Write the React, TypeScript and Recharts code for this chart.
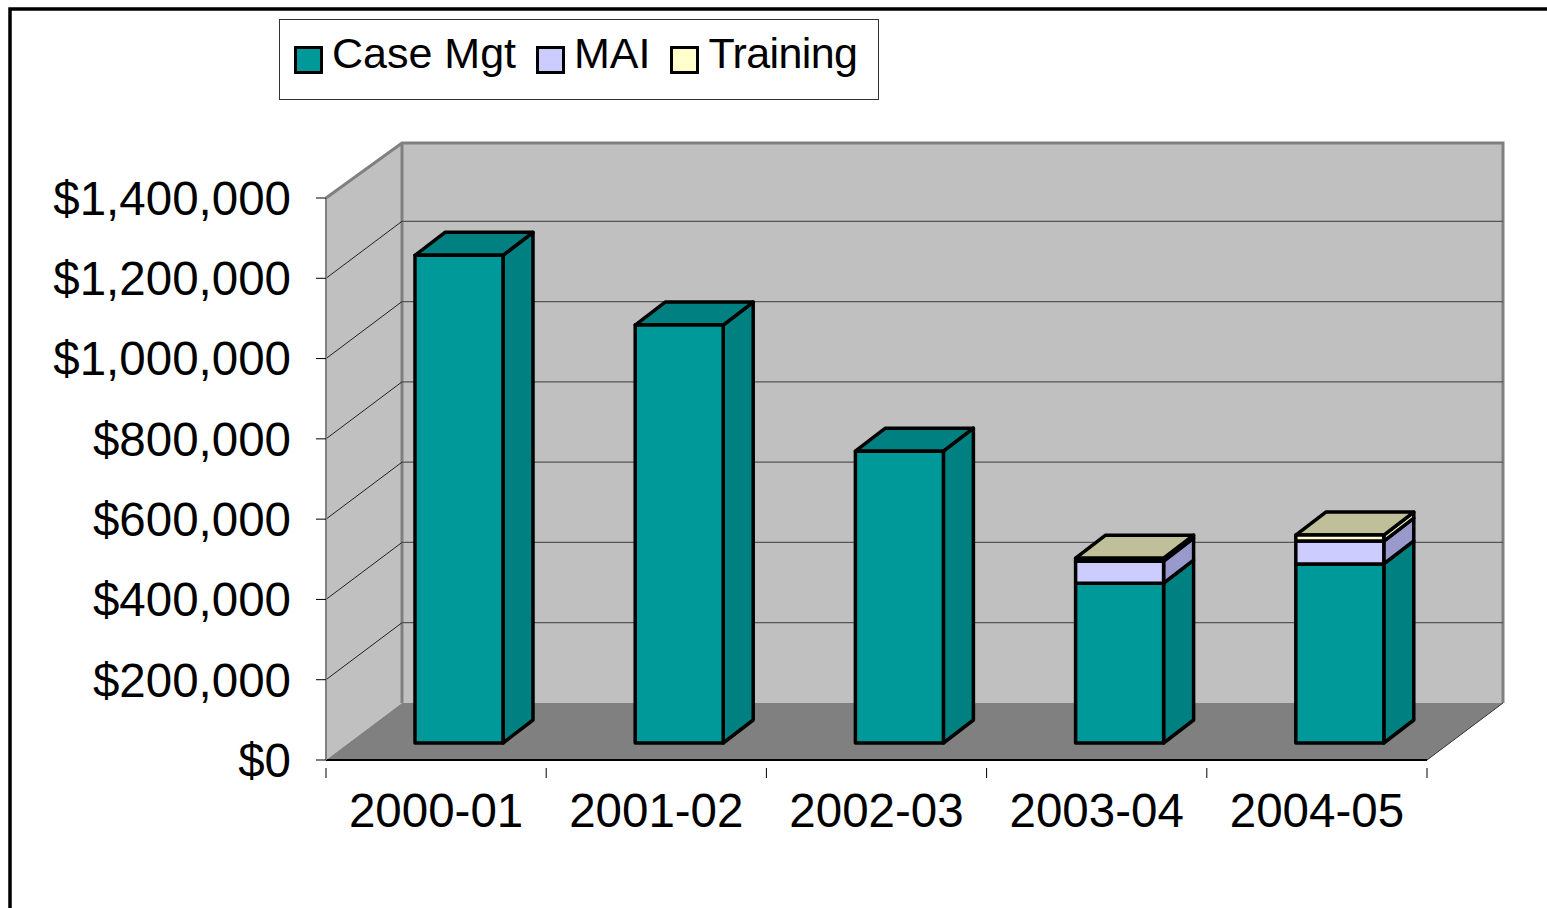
import { BarChart, Bar, XAxis, YAxis, CartesianGrid, Legend } from 'recharts';

const years = ['2000-01', '2001-02', '2002-03', '2003-04', '2004-05'];
const caseMgt = [1215000, 1041000, 727000, 398000, 446000];
const mai = [0, 0, 0, 55000, 57000];
const training = [0, 0, 0, 7500, 15000];
const yTicks = [0, 200000, 400000, 600000, 800000, 1000000, 1200000, 1400000];

const data = years.map((year, i) => ({
  year,
  caseMgt: caseMgt[i],
  mai: mai[i],
  training: training[i],
}));

const W = 1547;
const H = 908;
const left = 326;
const right = 1427;
const top = 198;
const bottom = 760;
const font = '"Liberation Sans", Arial, sans-serif';

// depth of the box the chart sits in, and of each bar
const wallDx = 76;
const wallDy = -57;
const barDx = 30;
const barDy = -23;
const barShiftX = 23;
const barShiftY = -17;
const bandWidth = (right - left) / years.length;

const colors = {
  caseMgt: { front: '#009999', side: '#008080', top: '#008080' },
  mai: { front: '#CCCCFF', side: '#9999CC', top: '#9999CC' },
  training: { front: '#FFFFCC', side: '#F2F2C0', top: '#BFBF99' },
};

// sits in its own svg under the chart, the grid lines have to land on top of it
function Walls() {
  const bx = left + wallDx;
  const rx = right + wallDx;
  const by = bottom + wallDy;
  const ty = top + wallDy + 2;
  return (
    <svg width={W} height={H} style={{ position: 'absolute', left: 0, top: 0 }}>
      <polygon points={`${left},${bottom} ${left},${top} ${bx},${ty} ${bx},${by}`} fill="#C0C0C0" />
      <rect x={bx} y={ty} width={rx - bx} height={by - ty} fill="#C0C0C0" />
      <polygon points={`${left},${bottom} ${bx},${by} ${rx},${by} ${right},${bottom}`} fill="#808080" />
      <polyline points={`${left},${top} ${bx},${ty} ${rx},${ty} ${rx},${by}`} fill="none" stroke="#808080" strokeWidth={3} />
      <line x1={bx} y1={ty} x2={bx} y2={by} stroke="#808080" strokeWidth={3} />
      <line x1={right} y1={bottom} x2={rx} y2={by} stroke="#333" strokeWidth={1} />
      <polyline points={`10,${H} 10,9 ${W},9`} fill="none" stroke="#000" strokeWidth={3.5} />
    </svg>
  );
}

function GridLine(props: any) {
  const { x1, x2, y1 } = props;
  if (Math.abs(y1 - bottom) < 1 || Math.abs(y1 - top) < 1) return null;
  const by = y1 + wallDy;
  return (
    <g>
      <line x1={x1} y1={y1} x2={x1 + wallDx} y2={by} stroke="#222" strokeWidth={1} />
      <line x1={x1 + wallDx} y1={by} x2={x2 + wallDx} y2={by} stroke="#555" strokeWidth={1.2} />
    </g>
  );
}

function Box(props: any) {
  const { x, y, width, height, palette, showTop } = props;
  if (!height || height <= 0) return null;
  const fx = x + barShiftX;
  const fy = y + barShiftY;
  const r = fx + width;
  const b = fy + height;
  return (
    <g stroke="#000" strokeWidth={3.5} strokeLinejoin="round">
      <polygon points={`${r},${fy} ${r + barDx},${fy + barDy} ${r + barDx},${b + barDy} ${r},${b}`} fill={palette.side} />
      {showTop && (
        <polygon points={`${fx},${fy} ${fx + barDx},${fy + barDy} ${r + barDx},${fy + barDy} ${r},${fy}`} fill={palette.top} />
      )}
      <rect x={fx} y={fy} width={width} height={height} fill={palette.front} />
    </g>
  );
}

function YearTick(props: any) {
  const { x, y, payload, index } = props;
  const last = index === years.length - 1;
  return (
    <g>
      <line x1={x - bandWidth / 2} y1={y} x2={x - bandWidth / 2} y2={y + 10} stroke="#000" />
      {last && <line x1={x + bandWidth / 2} y1={y} x2={x + bandWidth / 2} y2={y + 10} stroke="#000" />}
      <text x={x} y={y + 67} dy={-8} textAnchor="middle" fontSize={47.5} fontFamily={font} fill="#000">
        {payload.value}
      </text>
    </g>
  );
}

function LegendBox({ payload }: any) {
  return (
    <div
      style={{
        boxSizing: 'border-box',
        width: 600,
        height: 81,
        border: '1px solid #333',
        background: '#fff',
        display: 'flex',
        alignItems: 'flex-start',
        paddingLeft: 14,
        paddingTop: 8,
        fontFamily: font,
        fontSize: 43,
        lineHeight: '50px',
        color: '#000',
        whiteSpace: 'nowrap',
      }}
    >
      {(payload || []).map((entry: any) => (
        <div key={entry.value} style={{ display: 'flex', alignItems: 'flex-start', marginRight: 20, flex: 'none' }}>
          <span
            style={{
              boxSizing: 'border-box',
              width: 29,
              height: 28,
              marginTop: 18,
              marginRight: 9,
              background: entry.color,
              border: '3px solid #000',
              flex: 'none',
            }}
          />
          <span style={{ letterSpacing: entry.value === 'Training' ? -0.6 : 0 }}>{entry.value}</span>
        </div>
      ))}
    </div>
  );
}

export default function App() {
  return (
    <div style={{ position: 'absolute', left: 0, top: 0, width: W, height: H, overflow: 'hidden', background: '#fff' }}>
      <Walls />
      <BarChart
        width={W}
        height={H}
        data={data}
        margin={{ top, right: W - right, bottom: 0, left: 0 }}
        barSize={88}
      >
        <CartesianGrid vertical={false} horizontal={(p: any) => <GridLine key={p.key} {...p} />} />
        <XAxis
          dataKey="year"
          interval={0}
          height={H - bottom}
          tick={<YearTick />}
          tickLine={false}
          axisLine={{ stroke: '#000', strokeWidth: 2 }}
        />
        <YAxis
          width={left}
          domain={[0, 1400000]}
          ticks={yTicks}
          interval={0}
          tickFormatter={(v: number) => `$${v.toLocaleString('en-US')}`}
          tick={{ fontSize: 47.5, fontFamily: font, fill: '#000' }}
          tickSize={10}
          tickMargin={25}
          tickLine={{ stroke: '#000' }}
          axisLine={{ stroke: '#808080', strokeWidth: 2 }}
        />
        <Legend
          layout="horizontal"
          verticalAlign="middle"
          wrapperStyle={{ left: 279, top: 19, width: 600, height: 81 }}
          content={<LegendBox />}
        />
        <Bar
          dataKey="caseMgt"
          name="Case Mgt"
          stackId="a"
          fill={colors.caseMgt.front}
          isAnimationActive={false}
          shape={(p: any) => <Box {...p} palette={colors.caseMgt} showTop={!p.payload.mai && !p.payload.training} />}
        />
        <Bar
          dataKey="mai"
          name="MAI"
          stackId="a"
          fill={colors.mai.front}
          isAnimationActive={false}
          shape={(p: any) => <Box {...p} palette={colors.mai} showTop={!p.payload.training} />}
        />
        <Bar
          dataKey="training"
          name="Training"
          stackId="a"
          fill={colors.training.front}
          isAnimationActive={false}
          shape={(p: any) => <Box {...p} palette={colors.training} showTop />}
        />
      </BarChart>
    </div>
  );
}
